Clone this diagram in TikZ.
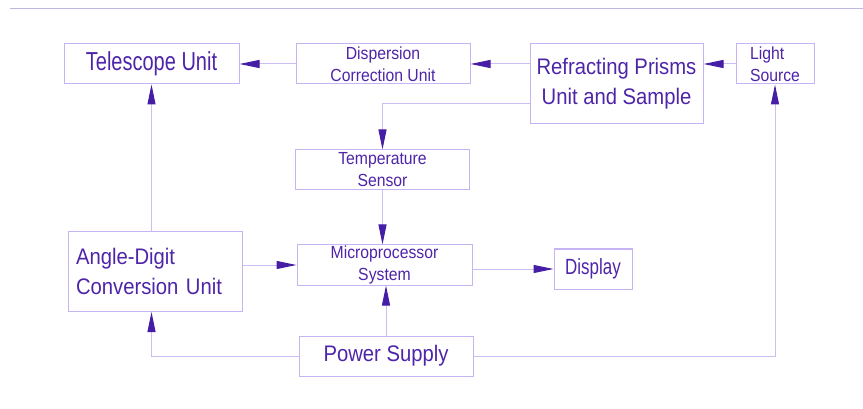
\documentclass[tikz,border=0pt]{standalone}
\usepackage{fontspec}
\usepackage{tikz}
\usetikzlibrary{arrows.meta, positioning, calc}
\usepackage{xcolor}
\newfontfamily\diagfont{Liberation Sans}[FakeStretch=0.9]
\newfontfamily\narrowfont{Liberation Sans}[FakeStretch=0.77]
\definecolor{boxline}{RGB}{198,180,245}
\definecolor{txtcol}{RGB}{78,36,168}
\definecolor{conline}{RGB}{204,190,242}
\definecolor{tipcol}{RGB}{70,30,165}
\definecolor{rulecol}{RGB}{192,182,228}
\newcommand{\bigtxt}{\diagfont\fontsize{22.5}{30}\selectfont}
\newcommand{\tallbig}{\narrowfont\fontsize{26}{30}\selectfont}
\newcommand{\tallmid}{\narrowfont\fontsize{22}{26}\selectfont}
\newcommand{\smalltxt}{\diagfont\fontsize{17.5}{22}\selectfont}

\begin{document}
\begin{tikzpicture}[
  x=1pt, y=-1pt,
  unit/.style={
    draw=boxline, line width=1pt, text=txtcol, inner sep=0pt,
    minimum width=174pt, minimum height=40pt, align=center
  },
  bigunit/.style={unit, minimum height=80pt, font=\bigtxt},
  arr/.style={
    -{Triangle[length=20pt, width=8pt, color=tipcol]},
    draw=conline, line width=1pt
  },
]
\useasboundingbox (0,0) rectangle (863,409);

% --- Top rule ---
\draw[draw=rulecol, line width=1pt] (10,9) -- (863,9);

% --- Units ---
\node[unit, minimum width=175pt, font=\tallbig] (tele) at (151.5,64) {Telescope Unit};
\node[unit, font=\smalltxt] (disp) at (383,64) {Dispersion\\Correction Unit};
\node[bigunit, minimum width=173pt] (refr) at (616.5,84) {Refracting Prisms\\Unit and Sample};
\node[unit, minimum width=78pt, text width=50pt, align=left, font=\smalltxt] (light) at (775,64) {Light\\Source};
\node[unit, font=\smalltxt] (temp) at (382.5,170) {Temperature\\Sensor};
\node[unit, minimum width=175pt, font=\smalltxt] (micro) at (384.5,265) {Microprocessor\\System};
\node[unit, minimum width=78pt, font=\tallmid] (display) at (593,269) {Display};
\node[bigunit, inner sep=8pt, text width=158pt, align=left] (angle) at (155,271.5) {Angle-Digit\\Conversion Unit};
\node[unit, font=\bigtxt] (power) at (386,356) {Power Supply};

% --- Optical path ---
\draw[arr] (disp.west) -- (tele.east);
\draw[arr] (disp.east -| refr.west) -- (disp.east);
\draw[arr] (light.west) -- (light.west -| refr.east);
\draw[arr] ([yshift=-20pt]refr.west) -| (temp.north);

% --- Signal path ---
\draw[arr] (temp.south) -- (temp.south |- micro.north);
\draw[arr] (micro.west -| angle.east) -- (micro.west);
\draw[arr] (display.west -| micro.east) -- (display.west);
\draw[arr] (angle.north -| tele.south) -- (tele.south);

% --- Power lines ---
\draw[arr] (power.north) -- (power.north |- micro.south);
\draw[arr] (power.west) -| (angle.south -| tele.south);
\draw[arr] (power.east) -| (light.south);

\end{tikzpicture}
\end{document}
